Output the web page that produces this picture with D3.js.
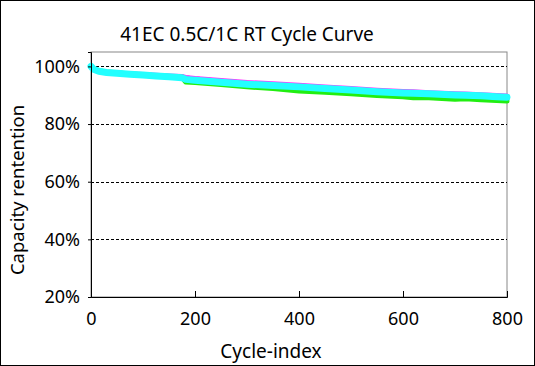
<!DOCTYPE html>
<html lang="en">
<head>
<meta charset="utf-8">
<script src="https://d3js.org/d3.v7.min.js"></script>
<style>
  body { margin: 0; background: #fff; }
  text { font-family: "Noto Sans", "Open Sans", sans-serif; fill: #000; }
</style>
</head>
<body>
<div id="chart"></div>
<script>
// cycle numbers shared by all series
var cycles = [0, 5, 15, 30, 50, 75, 100, 125, 150, 175, 182, 200, 250, 300, 350, 400,
              450, 500, 550, 600, 620, 650, 700, 720, 750, 780, 800];

// capacity retention (%) per cell
var navy    = [100, 99.1, 98.4, 98.0, 97.7, 97.4, 97.1, 96.9, 96.7, 96.5, 96.2, 95.8, 95.0, 94.3, 93.8, 93.4,
               92.8, 92.2, 91.6, 91.2, 91.0, 90.8, 90.4, 90.2, 90.0, 89.8, 89.5];
var magenta = [100, 99.1, 98.4, 98.0, 97.7, 97.4, 97.2, 96.9, 96.7, 96.5, 96.2, 95.8, 95.1, 94.4, 94.0, 93.5,
               92.9, 92.3, 91.7, 91.3, 91.2, 90.9, 90.5, 90.4, 90.2, 89.9, 89.7];
var green   = [100, 99.1, 98.5, 98.1, 97.8, 97.4, 97.1, 96.8, 96.5, 96.2, 94.6, 94.4, 93.7, 92.9, 92.3, 91.5,
               91.0, 90.5, 89.9, 89.5, 89.1, 89.1, 88.6, 88.8, 88.4, 88.2, 88.0];
var cyan    = [100, 99.0, 98.3, 97.9, 97.6, 97.3, 97.0, 96.7, 96.4, 96.1, 95.5, 95.2, 94.5, 93.8, 93.4, 92.9,
               92.3, 91.8, 91.2, 90.8, 90.7, 90.5, 90.1, 90.0, 89.8, 89.5, 89.3];

var seriesList = [
  {name: "navy", values: navy, color: "#1a1a8c", width: 4},
  {name: "magenta", values: magenta, color: "#ff33ff", width: 5},
  {name: "green", values: green, color: "#22ee11", width: 5},
  {name: "cyan", values: cyan, color: "#22ffff", width: 7}
];

var xTicks = [0, 200, 400, 600, 800];
var yTicks = [20, 40, 60, 80, 100];

var width = 535;
var height = 366;
var margin = {top: 52, right: 28, bottom: 69, left: 91};

var svg = d3.select("#chart")
    .append("svg")
    .attr("width", width)
    .attr("height", height);

// outer frame
svg.append("rect")
    .attr("x", 0.5).attr("y", 0.5)
    .attr("width", width - 1).attr("height", height - 1)
    .attr("fill", "#fff").attr("stroke", "#000");

var x = d3.scaleLinear().domain([0, 800]).range([margin.left, width - margin.right]);
var y = d3.scaleLinear().domain([20, 105]).range([height - margin.bottom, margin.top]);

// plot border (top / right grey)
svg.append("rect")
    .attr("x", x(0)).attr("y", y(105))
    .attr("width", x(800) - x(0)).attr("height", y(20) - y(105))
    .attr("fill", "none").attr("stroke", "#888");

// dashed grid
svg.append("g")
    .selectAll("line")
    .data(yTicks.filter(function(d) { return d > 20; }))
    .enter().append("line")
    .attr("x1", x(0)).attr("x2", x(800))
    .attr("y1", function(d) { return Math.round(y(d)) + 0.5; })
    .attr("y2", function(d) { return Math.round(y(d)) + 0.5; })
    .attr("stroke", "#000")
    .attr("stroke-dasharray", "3,2");

// series
var line = d3.line()
    .x(function(d, i) { return x(cycles[i]); })
    .y(function(d) { return y(d); });

svg.append("g")
    .selectAll("path")
    .data(seriesList)
    .enter().append("path")
    .attr("d", function(s) { return line(s.values); })
    .attr("fill", "none")
    .attr("stroke", function(s) { return s.color; })
    .attr("stroke-width", function(s) { return s.width; })
    .attr("stroke-linejoin", "round")
    .attr("stroke-linecap", "round");

// axes
var xAxis = d3.axisBottom(x)
    .tickValues(xTicks)
    .tickSize(-6)
    .tickPadding(15)
    .tickFormat(d3.format("d"));

var gx = svg.append("g")
    .attr("transform", "translate(0," + y(20) + ")")
    .call(xAxis);
gx.select(".domain").attr("stroke", "#000");
gx.selectAll(".tick line").attr("stroke", "#000")
    .filter(function(d) { return d === 0 || d === 800; }).remove();
gx.selectAll("text").style("font-size", "18px");

var yAxis = d3.axisLeft(y)
    .tickValues(yTicks)
    .tickSize(3)
    .tickPadding(8)
    .tickFormat(function(d) { return d + "%"; });

var gy = svg.append("g")
    .attr("transform", "translate(" + x(0) + ",0)")
    .call(yAxis);
gy.select(".domain").attr("stroke", "#000");
gy.selectAll(".tick line").attr("stroke", "#000");
gy.selectAll("text").style("font-size", "18px");

// titles
svg.append("text")
    .attr("x", 247).attr("y", 41)
    .attr("text-anchor", "middle")
    .style("font-size", "19px")
    .text("41EC 0.5C/1C RT Cycle Curve");

svg.append("text")
    .attr("x", 271).attr("y", 358)
    .attr("text-anchor", "middle")
    .style("font-size", "19px")
    .text("Cycle-index");

svg.append("text")
    .attr("transform", "translate(24,190) rotate(-90)")
    .attr("text-anchor", "middle")
    .style("font-size", "18.5px")
    .text("Capacity rentention");
</script>
</body>
</html>
